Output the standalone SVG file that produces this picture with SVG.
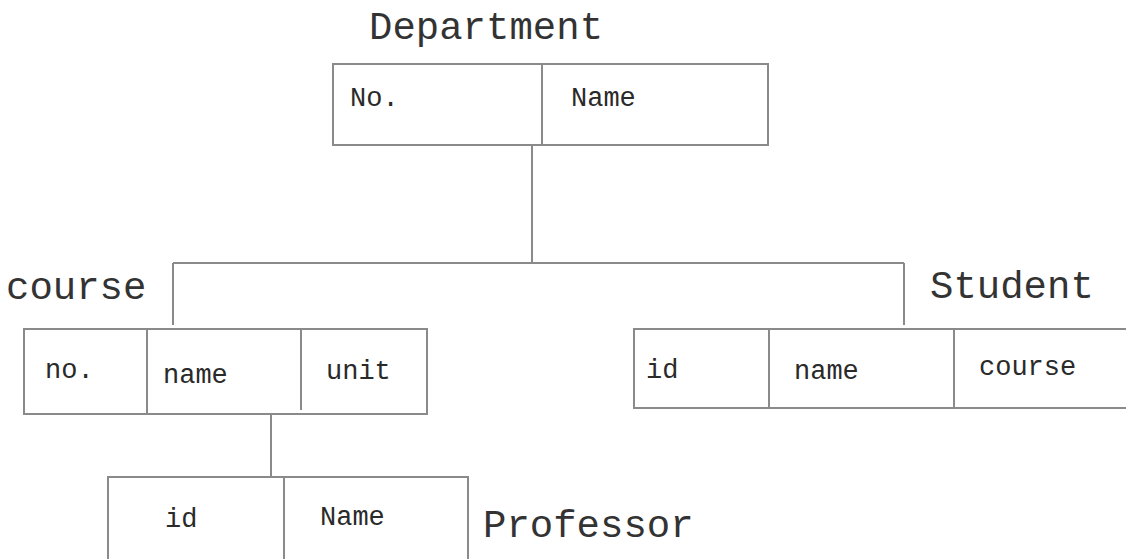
<svg xmlns="http://www.w3.org/2000/svg" width="1126" height="559" viewBox="0 0 1126 559">
<style>
.ln{stroke:#8a8a8a;stroke-width:2;fill:none}
.lbl{font-family:"Liberation Mono","Courier New",monospace;font-size:39px;fill:#333}
.fld{font-family:"Liberation Mono","Courier New",monospace;font-size:27px;fill:#2a2a2a}
</style>
<rect width="1126" height="559" fill="#fff"/>
<g id="connectors">
<path class="ln" d="M532 145V263M173 263H904M173 263V325M904 263V325M271 414V477"/>
</g>
<g id="department">
<text class="lbl" x="369" y="39">Department</text>
<rect class="ln" x="333" y="64" width="435" height="81"/>
<path class="ln" d="M542 64V145"/>
<text class="fld" x="350" y="106">No.</text>
<text class="fld" x="571" y="106">Name</text>
</g>
<g id="course">
<text class="lbl" x="6" y="299">course</text>
<rect class="ln" x="24" y="329" width="403" height="85"/>
<path class="ln" d="M147 329V414M301 329V410"/>
<text class="fld" x="45" y="378">no.</text>
<text class="fld" x="163" y="383">name</text>
<text class="fld" x="326" y="379">unit</text>
</g>
<g id="student">
<text class="lbl" x="930" y="298">Student</text>
<path class="ln" d="M1126 329H634V408H1126M769 329V408M954 329V408"/>
<text class="fld" x="646" y="378">id</text>
<text class="fld" x="794" y="379">name</text>
<text class="fld" x="979" y="375">course</text>
</g>
<g id="professor">
<text class="lbl" x="483" y="537">Professor</text>
<path class="ln" d="M108 560V477H468V560M284 477V560"/>
<text class="fld" x="165" y="527">id</text>
<text class="fld" x="320" y="525">Name</text>
</g>
</svg>
